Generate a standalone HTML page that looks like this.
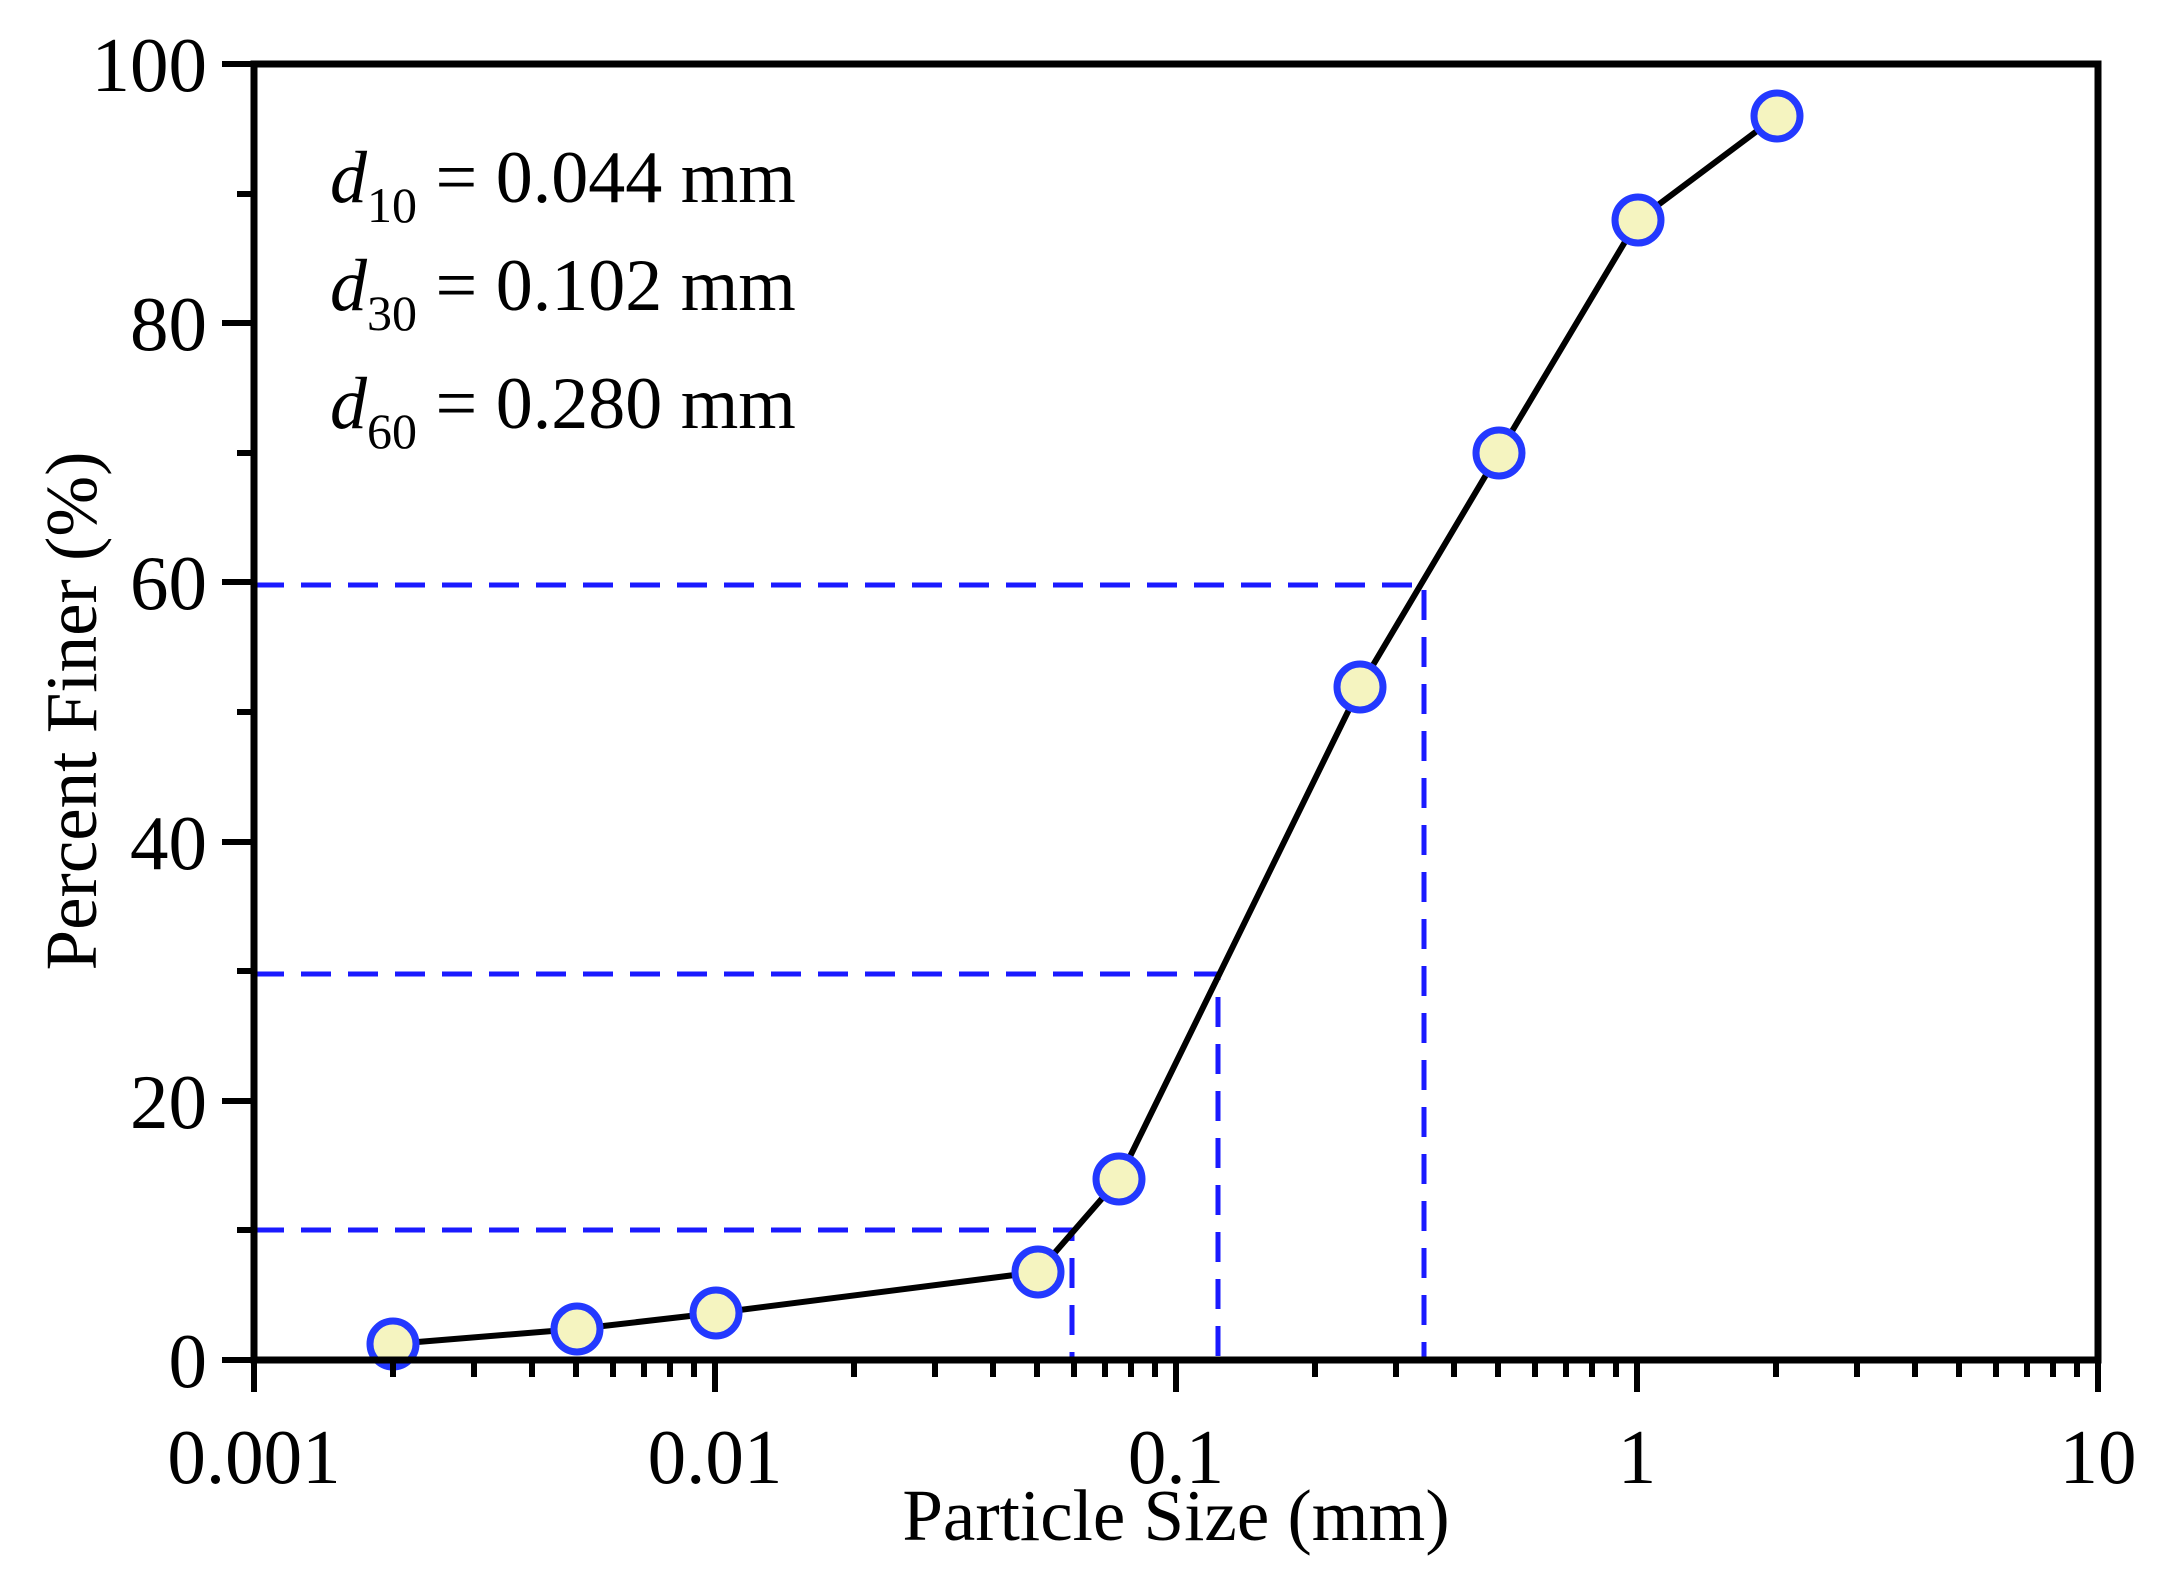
<!DOCTYPE html>
<html><head><meta charset="utf-8"><style>html,body{margin:0;padding:0;background:#fff}</style></head>
<body>
<svg width="2171" height="1571" viewBox="0 0 2171 1571" xmlns="http://www.w3.org/2000/svg" font-family="'Liberation Serif', serif">
<rect width="2171" height="1571" fill="#fff"/>
<g stroke="#1a1aff" stroke-width="5" stroke-dasharray="30,17" fill="none">
<path d="M254 585 H1424 V1360"/>
<path d="M254 974 H1218 V1360"/>
<path d="M254 1230 H1072 V1360"/>
</g>
<polyline fill="none" stroke="#000" stroke-width="6" points="393,1344 577,1329 716,1313 1038,1272 1119,1179 1360,687 1499,453 1638,220 1777,116"/>
<g fill="#f5f4c0" stroke="#2339ff" stroke-width="7">
<circle cx="393" cy="1344" r="23"/><circle cx="577" cy="1329" r="23"/><circle cx="716" cy="1313" r="23"/>
<circle cx="1038" cy="1272" r="23"/><circle cx="1119" cy="1179" r="23"/><circle cx="1360" cy="687" r="23"/>
<circle cx="1499" cy="453" r="23"/><circle cx="1638" cy="220" r="23"/><circle cx="1777" cy="116" r="23"/>
</g>
<rect x="254" y="64" width="1844" height="1296" fill="none" stroke="#000" stroke-width="7"/>
<g stroke="#000" stroke-width="6">
<path d="M254 1360v32M715 1360v32M1176 1360v32M1637 1360v32M2098 1360v32"/>
<path d="M393 1360v17M474 1360v17M532 1360v17M576 1360v17M613 1360v17M644 1360v17M670 1360v17M694 1360v17
M854 1360v17M935 1360v17M993 1360v17M1037 1360v17M1074 1360v17M1105 1360v17M1131 1360v17M1155 1360v17
M1315 1360v17M1396 1360v17M1454 1360v17M1498 1360v17M1535 1360v17M1566 1360v17M1592 1360v17M1616 1360v17
M1776 1360v17M1857 1360v17M1915 1360v17M1959 1360v17M1996 1360v17M2027 1360v17M2053 1360v17M2077 1360v17"/>
<path d="M254 1360h-32M254 1101h-32M254 842h-32M254 582h-32M254 323h-32M254 64h-32"/>
<path d="M254 1230h-17M254 971h-17M254 712h-17M254 453h-17M254 194h-17"/>
</g>
<g font-size="77" text-anchor="middle" fill="#000">
<text x="254" y="1483">0.001</text><text x="715" y="1483">0.01</text><text x="1176" y="1483">0.1</text>
<text x="1637" y="1483">1</text><text x="2098" y="1483">10</text>
</g>
<g font-size="77" text-anchor="end" fill="#000">
<text x="207" y="1387">0</text><text x="207" y="1128">20</text><text x="207" y="869">40</text>
<text x="207" y="609">60</text><text x="207" y="350">80</text><text x="207" y="91">100</text>
</g>
<text x="1176" y="1540" font-size="73" text-anchor="middle">Particle Size (mm)</text>
<text transform="translate(96,711) rotate(-90)" font-size="73" text-anchor="middle">Percent Finer (%)</text>
<g font-size="74" fill="#000">
<text x="330" y="202"><tspan font-style="italic">d</tspan><tspan font-size="50" dy="20">10</tspan><tspan dy="-20"> = 0.044 mm</tspan></text>
<text x="330" y="310"><tspan font-style="italic">d</tspan><tspan font-size="50" dy="20">30</tspan><tspan dy="-20"> = 0.102 mm</tspan></text>
<text x="330" y="428"><tspan font-style="italic">d</tspan><tspan font-size="50" dy="20">60</tspan><tspan dy="-20"> = 0.280 mm</tspan></text>
</g>
</svg>
</body></html>
